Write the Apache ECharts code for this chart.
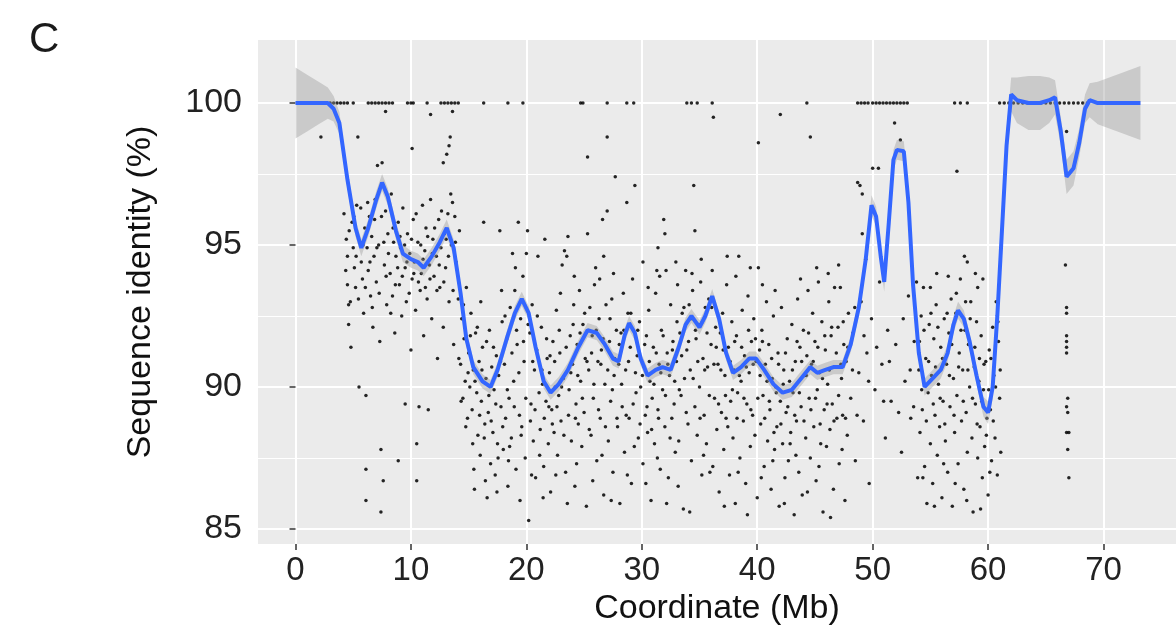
<!DOCTYPE html>
<html>
<head>
<meta charset="utf-8">
<style>
  html, body { margin: 0; padding: 0; background: #fff; }
  #chart { width: 1176px; height: 636px; }
</style>
<script src="https://cdn.jsdelivr.net/npm/echarts@6/dist/echarts.min.js"></script>
</head>
<body>
<div id="chart"></div>
<script>
  // tick labels
  var xTicks = [0, 10, 20, 30, 40, 50, 60, 70];
  var yTicks = [85, 90, 95, 100];
  var yMinorTicks = [87.5, 92.5, 97.5];

  // loess fit: [coordinate, identity, half band width]
  var smoothCurve = [
    [0,100,1.25],[1,100,1.0],[2,100,0.75],[2.8,100,0.55],[3.3,99.8,0.45],[3.8,99.3,0.38],
    [4.5,97.3,0.32],[5.2,95.6,0.3],[5.7,94.9,0.3],[6.3,95.6,0.3],[7.0,96.6,0.3],[7.5,97.2,0.3],
    [8.0,96.7,0.3],[8.7,95.5,0.3],[9.3,94.7,0.3],[10.0,94.5,0.3],[10.6,94.4,0.3],[11.1,94.2,0.3],
    [11.8,94.6,0.3],[12.5,95.1,0.3],[13.1,95.6,0.3],[13.7,94.9,0.3],[14.3,93.3,0.3],[14.8,91.7,0.28],
    [15.4,90.7,0.25],[16.2,90.2,0.25],[16.9,90.0,0.25],[17.5,90.6,0.25],[18.3,91.7,0.25],[19.0,92.6,0.25],
    [19.6,93.1,0.25],[20.2,92.6,0.25],[20.8,91.4,0.25],[21.5,90.2,0.25],[22.1,89.8,0.25],[22.8,90.1,0.25],
    [23.6,90.6,0.25],[24.5,91.4,0.25],[25.3,92.0,0.25],[26.1,91.9,0.25],[26.8,91.5,0.25],[27.5,91.0,0.25],
    [28.0,90.9,0.25],[28.5,91.8,0.25],[28.9,92.25,0.25],[29.4,91.9,0.25],[29.9,91.0,0.25],[30.5,90.4,0.25],
    [31.2,90.6,0.25],[31.8,90.7,0.25],[32.5,90.6,0.25],[33.2,91.4,0.25],[33.8,92.2,0.25],[34.3,92.5,0.25],
    [35.0,92.1,0.25],[35.5,92.5,0.25],[36.1,93.2,0.25],[36.7,92.4,0.25],[37.3,91.2,0.25],[37.9,90.5,0.25],
    [38.6,90.7,0.25],[39.3,91.0,0.25],[39.9,91.0,0.25],[40.6,90.6,0.25],[41.4,90.1,0.25],[42.2,89.8,0.25],
    [43.0,89.9,0.25],[43.8,90.3,0.25],[44.6,90.7,0.25],[45.2,90.5,0.25],[45.9,90.6,0.25],[46.6,90.7,0.25],
    [47.4,90.7,0.25],[48.1,91.5,0.28],[48.8,92.8,0.3],[49.4,94.5,0.32],[49.9,96.4,0.35],[50.3,96.0,0.35],
    [50.7,94.6,0.35],[51.0,93.7,0.35],[51.4,95.8,0.35],[51.8,98.0,0.35],[52.1,98.35,0.35],[52.7,98.3,0.35],
    [53.1,96.5,0.35],[53.5,93.6,0.32],[54.0,91.2,0.3],[54.5,90.0,0.3],[55.2,90.3,0.3],[55.9,90.6,0.3],
    [56.5,91.2,0.3],[57.0,92.2,0.3],[57.4,92.7,0.3],[57.9,92.4,0.3],[58.4,91.6,0.3],[59.0,90.4,0.3],
    [59.6,89.3,0.35],[60.0,89.1,0.4],[60.4,90.0,0.4],[60.8,92.5,0.45],[61.2,95.5,0.5],[61.6,98.5,0.55],
    [62.0,100.3,0.6],[62.5,100.1,0.8],[63.5,100.0,0.95],[64.5,100.0,0.95],[65.3,100.1,0.8],[65.8,100.2,0.6],
    [66.3,99.0,0.5],[66.8,97.4,0.6],[67.4,97.7,0.6],[67.9,98.6,0.5],[68.4,99.8,0.5],[68.8,100.1,0.6],
    [69.5,100.0,0.75],[70.5,100.0,0.9],[71.5,100.0,1.05],[73.2,100.0,1.3]
  ];

  // alignments at exactly 100 % identity
  var fullIdentityX = [3.0,3.3,3.6,3.9,4.2,4.5,5.0,6.3,6.6,6.9,7.2,7.5,7.8,8.1,8.4,9.7,10.0,10.2,11.4,
    12.6,12.9,13.2,13.5,13.8,14.1,16.3,18.4,19.7,24.7,24.9,27.0,28.7,29.3,33.9,34.3,34.8,36.1,44.3,
    48.7,49.0,49.3,49.6,50.0,50.3,50.6,50.9,51.2,51.5,51.8,52.1,52.4,52.7,53.0,57.1,57.6,58.2,
    61.0,61.4,61.8,62.2,62.6,63.0,63.4,63.8,64.2,64.6,65.0,65.4,65.8,66.2,66.6,67.0,67.4,67.8,68.2,68.6];

  // remaining alignments, [coordinate, identity]
  var pts0to8 = [[4.2,96.1],[4.4,95.2],[4.5,94.6],[4.5,93.6],[4.6,92.9],[4.6,92.2],[4.8,91.4],[4.9,95.8],
    [5.0,94.9],[5.1,94.2],[5.2,93.5],[5.3,96.4],[5.4,98.8],[5.5,90.0],[5.6,95.1],[5.7,94.4],[5.8,93.8],
    [5.9,92.6],[6.0,95.6],[6.1,89.7],[6.1,87.1],[6.1,86.0],[6.2,94.9],[6.3,94.1],[6.4,96.0],[6.5,93.2],
    [6.6,95.3],[6.7,92.1],[6.8,94.6],[6.9,96.6],[7.0,93.7],[7.1,97.8],[7.2,95.0],[7.3,91.6],[7.4,87.8],
    [7.4,85.6],[7.5,97.9],[7.6,86.7],[7.7,94.3],[7.8,99.7],[7.8,96.2],[7.9,92.9],[8.0,95.4],[2.2,98.8],
    [4.35,94.1],[4.65,95.5],[4.75,93.0],[5.05,96.0],[5.25,94.6],[5.45,93.1],[5.65,96.3],[5.85,95.0],
    [6.05,93.5],[6.25,96.5],[6.45,94.4],[6.65,92.8],[6.85,95.9],[7.05,94.9],[7.25,93.3],[7.45,96.0],
    [7.65,95.1],[7.85,93.9]];
  var pts8to14 = [[8.2,94.0],[8.3,96.8],[8.4,93.2],[8.5,95.1],[8.6,91.9],[8.7,94.6],[8.9,87.4],[8.9,95.8],
    [9.0,93.6],[9.1,94.9],[9.2,92.5],[9.3,96.3],[9.5,89.4],[9.5,94.2],[9.6,93.0],[9.7,95.4],[9.9,94.7],
    [10.0,91.3],[10.1,98.4],[10.1,93.8],[10.2,95.9],[10.3,94.4],[10.4,92.7],[10.5,88.0],[10.5,86.7],
    [10.6,95.1],[10.7,89.3],[10.8,93.4],[10.9,94.0],[11.0,96.4],[11.1,91.8],[11.2,94.8],[11.3,95.6],
    [11.4,93.1],[11.5,89.2],[11.6,94.3],[11.7,96.6],[11.7,99.6],[11.8,92.4],[11.9,95.2],[12.0,93.9],
    [12.2,94.6],[12.3,91.0],[12.4,95.9],[12.5,93.5],[12.6,94.9],[12.8,97.9],[12.8,92.1],[12.9,95.4],
    [13.0,94.2],[13.1,98.2],[13.2,96.1],[13.3,98.5],[13.3,93.0],[13.4,98.8],[13.5,95.0],[13.6,99.7],
    [13.6,96.5],[13.7,91.5],[13.8,96.0],[13.9,94.4],
    [8.05,94.7],[8.25,92.6],[8.45,95.6],[8.65,93.6],[8.85,94.2],[9.05,95.3],[9.25,93.9],[9.45,95.0],
    [9.65,94.4],[9.85,93.3],[10.05,95.2],[10.25,94.0],[10.45,96.1],[10.65,93.7],[10.85,95.0],[11.05,94.5],
    [11.25,93.5],[11.45,95.3],[11.65,93.8],[11.85,94.7],[12.05,95.6],[12.25,93.4],[12.45,94.3],[12.65,96.2],
    [12.85,93.7],[13.05,95.2],[13.25,94.6],[13.45,96.8],[13.65,93.4],[13.85,95.1]];
  var pts14to22 = [[14.1,93.1],[14.2,95.5],[14.3,90.8],[14.4,92.4],[14.5,89.6],[14.6,91.7],[14.7,90.2],
    [14.8,93.5],[14.9,88.9],[15.0,91.2],[15.1,90.0],[15.2,92.6],[15.3,89.2],[15.4,90.6],[15.5,86.4],
    [15.6,91.9],[15.7,89.8],[15.8,88.3],[15.9,90.9],[16.0,87.6],[16.1,89.5],[16.2,91.4],[16.3,95.8],
    [16.4,88.7],[16.5,90.3],[16.6,86.1],[16.7,89.1],[16.8,92.0],[16.9,87.3],[17.0,90.7],[17.1,88.4],
    [17.2,89.9],[17.3,86.9],[17.4,91.1],[17.5,88.0],[17.6,90.4],[17.7,95.5],[17.8,89.3],[17.9,92.3],
    [18.0,87.8],[18.1,90.8],[18.2,88.9],[18.3,91.7],[18.4,86.5],[18.5,89.6],[18.6,92.8],[18.7,88.2],
    [18.8,94.7],[18.9,90.2],[19.0,93.4],[19.1,87.1],[19.2,91.5],[19.3,95.8],[19.4,89.0],[19.5,92.4],
    [19.6,88.6],[19.7,93.9],[19.8,90.9],[19.9,87.5],[20.0,94.7],[20.1,95.5],[20.2,85.3],[20.3,91.9],
    [20.4,89.4],[20.5,92.9],[20.6,88.1],[20.7,90.6],[20.8,86.8],[20.9,91.3],[21.0,94.6],[21.1,89.8],
    [21.2,88.5],[21.3,92.1],[21.4,90.1],[21.5,87.2],[21.6,95.2],[21.7,89.5],[21.8,91.0],[21.9,88.0],
    [14.15,91.0],[14.35,89.5],[14.55,92.9],[14.75,88.6],[14.95,90.5],[15.15,91.8],[15.35,88.0],[15.55,90.2],
    [15.75,92.1],[15.95,89.0],[16.15,90.6],[16.35,88.2],[16.55,91.6],[16.75,89.7],[16.95,88.8],[17.15,91.4],
    [17.35,89.4],[17.55,87.5],[17.75,90.9],[17.95,88.6],[18.15,92.5],[18.35,89.9],[18.55,87.9],[18.75,91.2],
    [18.95,89.3],[19.15,92.0],[19.35,90.5],[19.55,88.3],[19.75,91.6],[19.95,89.6],[20.15,92.2],[20.35,88.8],
    [20.55,90.9],[20.75,89.2],[20.95,92.5],[21.15,87.6],[21.35,90.6],[21.55,88.9],[21.75,91.7],[21.95,89.3],
    [15.45,87.1],[16.45,86.7],[17.45,86.3],[18.45,87.4],[19.45,86.0],[20.45,86.9],[21.45,86.1],[19.05,94.2],
    [17.85,93.4],[16.05,93.0]];
  var pts22to30 = [[22.0,90.5],[22.1,86.3],[22.2,89.2],[22.3,91.6],[22.4,88.4],[22.5,90.0],[22.6,92.7],
    [22.7,87.6],[22.8,89.7],[22.9,91.2],[23.0,88.8],[23.1,94.3],[23.2,90.3],[23.3,94.8],[23.4,87.0],
    [23.5,94.6],[23.6,95.3],[23.7,89.9],[23.8,91.8],[23.9,88.1],[24.0,90.8],[24.1,92.9],[24.2,86.5],
    [24.3,89.4],[24.4,91.5],[24.5,88.7],[24.6,93.4],[24.7,90.2],[24.8,87.9],[24.9,92.2],[25.0,89.1],
    [25.1,91.0],[25.2,85.8],[25.3,95.4],[25.3,98.1],[25.4,90.6],[25.5,92.8],[25.6,88.3],[25.7,91.8],
    [25.8,89.6],[25.9,93.6],[26.0,94.2],[26.1,87.4],[26.2,90.9],[26.3,92.4],[26.4,88.9],[26.5,91.3],
    [26.6,95.9],[26.7,94.6],[26.7,86.2],[26.8,90.1],[26.9,92.9],[27.0,96.2],[27.0,98.8],[27.1,88.1],
    [27.2,91.6],[27.3,89.5],[27.4,93.1],[27.5,87.0],[27.6,90.4],[27.7,97.4],[27.8,92.0],[27.9,88.6],
    [28.0,90.8],[28.1,85.9],[28.2,91.9],[28.3,89.3],[28.4,93.3],[28.5,87.7],[28.6,90.6],[28.7,96.5],
    [28.8,92.6],[28.9,88.9],[29.0,91.4],[29.1,86.6],[29.2,93.8],[29.4,97.1],[29.5,89.8],[29.6,91.1],
    [29.7,88.2],[29.8,92.3],[29.9,90.0],
    [22.05,91.1],[22.25,88.7],[22.45,90.9],[22.65,89.3],[22.85,92.0],[23.05,90.0],[23.25,88.3],[23.45,91.4],
    [23.65,89.0],[23.85,90.5],[24.05,92.2],[24.25,88.9],[24.45,90.4],[24.65,91.9],[24.85,89.6],[25.05,92.6],
    [25.25,90.9],[25.45,88.5],[25.65,91.2],[25.85,90.1],[26.05,92.0],[26.25,89.2],[26.45,90.8],[26.65,91.7],
    [26.85,88.6],[27.05,90.6],[27.25,92.4],[27.45,89.9],[27.65,91.0],[27.85,88.9],[28.05,91.5],[28.25,90.1],
    [28.45,92.0],[28.65,89.0],[28.85,90.9],[29.05,92.6],[29.25,89.4],[29.45,90.5],[29.65,92.0],[29.85,88.7],
    [22.55,86.9],[23.55,85.9],[24.35,87.3],[25.75,86.7],[26.55,87.6],[27.35,86.0],[28.75,86.9],[29.35,87.9],
    [22.95,93.3],[24.15,93.9],[26.35,93.8],[27.55,94.0]];
  var pts30to40 = [[30.1,94.4],[30.1,87.3],[30.2,90.7],[30.3,89.0],[30.4,91.8],[30.5,88.4],[30.6,92.7],
    [30.7,90.2],[30.8,86.0],[30.9,89.6],[31.0,91.4],[31.1,88.0],[31.2,93.3],[31.3,94.1],[31.4,94.9],
    [31.4,89.2],[31.5,90.8],[31.6,87.1],[31.7,92.0],[31.8,89.9],[31.9,95.9],[32.0,95.4],[32.0,88.6],
    [32.1,94.1],[32.2,91.2],[32.3,86.8],[32.4,90.4],[32.5,92.9],[32.6,88.9],[32.7,91.6],[32.8,89.4],
    [32.9,87.7],[33.0,90.9],[33.1,93.6],[33.2,88.1],[33.3,91.9],[33.4,89.7],[33.5,92.6],[33.6,85.7],
    [33.7,90.3],[33.8,94.1],[33.9,91.3],[34.0,88.7],[34.1,92.9],[34.2,90.6],[34.3,87.4],[34.4,93.4],
    [34.5,97.1],[34.6,95.5],[34.6,89.3],[34.7,91.7],[34.8,88.3],[34.9,92.2],[35.0,90.0],[35.1,93.7],
    [35.2,86.9],[35.3,91.0],[35.4,89.0],[35.5,92.8],[35.6,88.0],[35.7,90.7],[35.8,93.1],[35.9,87.0],
    [36.0,91.5],[36.1,94.1],[36.2,99.5],[36.3,89.6],[36.4,92.1],[36.5,88.5],[36.6,90.8],[36.7,86.3],
    [36.8,91.9],[36.9,89.1],[37.0,92.6],[37.1,87.8],[37.2,90.4],[37.3,88.9],[37.4,94.6],[37.5,91.4],
    [37.6,86.9],[37.7,89.5],[37.8,92.3],[37.9,88.2],[38.0,90.6],[38.1,85.9],[38.2,91.8],[38.3,89.8],
    [38.4,94.6],[38.5,87.5],[38.6,90.2],[38.7,92.7],[38.8,88.8],[38.9,91.1],[39.0,86.6],[39.1,89.4],
    [39.2,93.2],[39.3,90.5],[39.4,94.2],[39.4,87.9],[39.5,91.6],[39.6,89.0],[39.7,92.4],[39.8,88.3],
    [39.9,90.9],[40.0,86.1],[40.1,94.2],[40.1,98.6],
    [30.05,90.4],[30.25,91.5],[30.45,89.3],[30.65,90.9],[30.85,88.5],[31.05,90.1],[31.25,91.2],[31.45,88.9],
    [31.65,90.5],[31.85,91.8],[32.05,89.7],[32.25,90.8],[32.45,88.2],[32.65,91.3],[32.85,90.2],[33.05,92.3],
    [33.25,89.9],[33.45,91.1],[33.65,92.8],[33.85,89.1],[34.05,91.6],[34.25,92.4],[34.45,90.3],[34.65,92.0],
    [34.85,90.9],[35.05,88.9],[35.25,92.3],[35.45,90.6],[35.65,91.9],[35.85,89.7],[36.05,92.8],[36.25,90.8],
    [36.45,91.4],[36.65,89.4],[36.85,90.6],[37.05,91.3],[37.25,89.7],[37.45,88.6],[37.65,90.9],[37.85,89.9],
    [38.05,91.6],[38.25,88.9],[38.45,90.4],[38.65,91.4],[38.85,89.6],[39.05,90.7],[39.25,92.0],[39.45,89.2],
    [39.65,90.8],[39.85,91.7],
    [30.35,86.6],[31.35,87.5],[32.15,85.9],[33.15,86.5],[34.15,85.6],[35.35,87.6],[36.15,87.2],[37.15,85.8],
    [38.35,87.0],[39.15,85.5],[30.55,93.5],[31.55,93.9],[32.95,94.4],[34.35,94.0],[35.15,94.5],[37.35,93.6],
    [38.15,93.9]];
  var pts40to48 = [[40.2,91.3],[40.3,88.7],[40.4,92.0],[40.5,89.7],[40.6,87.2],[40.7,90.8],[40.8,93.0],
    [40.9,88.1],[41.0,91.5],[41.1,89.2],[41.2,86.4],[41.3,90.3],[41.4,92.5],[41.5,87.8],[41.6,90.0],
    [41.7,88.6],[41.8,91.2],[41.9,85.8],[42.0,99.6],[42.0,89.5],[42.1,92.8],[42.2,88.0],[42.3,90.6],
    [42.4,86.8],[42.5,89.1],[42.6,91.7],[42.7,87.4],[42.8,90.2],[42.9,88.4],[43.0,92.2],[43.1,89.8],
    [43.2,85.5],[43.3,90.9],[43.4,88.8],[43.5,93.1],[43.6,87.0],[43.7,91.4],[43.8,89.3],[43.9,86.2],
    [44.0,92.0],[44.1,90.4],[44.2,88.2],[44.3,91.1],[44.4,93.4],[44.5,89.6],[44.6,98.8],[44.6,87.5],
    [44.7,90.8],[44.8,92.6],[44.9,88.6],[45.0,91.6],[45.1,86.7],[45.2,89.9],[45.3,93.7],[45.4,90.5],
    [45.5,88.0],[45.6,92.3],[45.7,85.6],[45.8,89.2],[45.9,91.3],[46.0,87.9],[46.1,90.1],[46.2,93.0],
    [46.3,88.5],[46.4,91.8],[46.5,89.4],[46.6,86.4],[46.7,93.5],[46.8,90.7],[46.9,88.9],[47.0,92.1],
    [47.1,87.3],[47.2,93.5],[47.3,90.3],[47.4,89.0],[47.5,91.5],[47.6,86.0],[47.7,90.9],[47.8,88.3],
    [47.9,92.6],
    [40.05,89.6],[40.25,90.4],[40.45,91.6],[40.65,88.9],[40.85,90.2],[41.05,89.5],[41.25,91.0],[41.45,88.4],
    [41.65,89.8],[41.85,90.8],[42.05,88.7],[42.25,90.1],[42.45,91.2],[42.65,89.3],[42.85,88.0],[43.05,90.6],
    [43.25,89.0],[43.45,91.6],[43.65,89.8],[43.85,90.9],[44.05,88.8],[44.25,90.4],[44.45,91.9],[44.65,89.2],
    [44.85,90.9],[45.05,89.6],[45.25,91.4],[45.45,88.7],[45.65,90.3],[45.85,91.8],[46.05,89.4],[46.25,90.6],
    [46.45,92.1],[46.65,88.8],[46.85,91.2],[47.05,89.7],[47.25,90.8],[47.45,92.3],[47.65,88.9],[47.85,91.4],
    [40.35,86.8],[41.35,87.4],[42.35,85.9],[43.35,87.6],[44.35,86.3],[45.35,87.2],[46.35,85.4],[47.35,87.8],
    [40.45,93.6],[41.55,93.4],[43.75,93.8],[45.15,94.2],[46.15,94.0],[47.05,94.3]];
  var pts48to54 = [[48.1,89.6],[48.3,91.9],[48.5,87.4],[48.7,97.2],[48.8,90.5],[48.9,97.1],[49.0,93.0],
    [49.1,96.8],[49.1,95.4],[49.2,88.8],[49.4,94.5],[49.5,91.2],[49.7,86.6],[49.9,92.4],[50.0,97.7],
    [50.2,89.9],[50.5,97.7],[50.6,93.7],[50.8,90.8],[51.1,88.2],[51.3,92.0],[51.6,89.5],[51.9,99.3],
    [52.0,91.5],[52.4,98.7],[52.5,87.7],[52.8,90.2],[53.1,93.2],[53.3,88.9],[53.6,91.6],[53.8,93.7],
    [53.9,86.8],[48.25,90.6],[48.45,92.8],[48.65,89.0],[49.25,91.8],[49.65,90.2],[50.35,91.4],[50.95,89.5],
    [51.45,90.9],[52.25,89.1],[52.65,92.4],[53.25,90.6],[53.55,89.3]];
  var pts54to62 = [[54.0,90.6],[54.1,88.4],[54.2,92.5],[54.3,89.2],[54.4,93.5],[54.5,87.2],[54.6,91.0],
    [54.7,85.9],[54.8,89.8],[54.9,92.2],[55.0,93.5],[55.0,88.0],[55.1,90.4],[55.2,86.6],[55.3,91.7],
    [55.4,89.0],[55.5,92.9],[55.6,87.6],[55.7,90.1],[55.8,88.6],[55.9,91.4],[56.0,86.1],[56.1,89.5],
    [56.2,92.4],[56.3,88.1],[56.4,90.8],[56.5,87.0],[56.6,91.9],[56.7,89.3],[56.8,93.1],[56.9,85.8],
    [57.0,90.3],[57.1,88.4],[57.2,92.6],[57.3,97.6],[57.3,89.7],[57.4,87.3],[57.5,91.2],[57.6,93.8],
    [57.7,88.8],[57.8,90.6],[57.9,86.4],[58.0,92.0],[58.1,89.1],[58.2,94.4],[58.2,87.7],[58.3,91.5],
    [58.4,90.0],[58.5,93.0],[58.6,88.2],[58.7,85.6],[58.8,90.7],[58.9,94.0],[58.9,89.4],[59.0,92.3],
    [59.1,93.5],[59.1,87.5],[59.2,90.2],[59.3,88.6],[59.4,91.8],[59.5,86.8],[59.6,89.9],[59.7,87.9],
    [59.8,90.9],[59.9,88.9],[60.0,86.2],[60.1,91.3],[60.2,89.2],[60.3,87.4],[60.4,92.1],[60.5,90.4],
    [60.6,88.2],[60.7,93.0],[60.8,86.9],[60.9,91.6],[61.0,89.6],[61.1,87.7],
    [54.05,91.6],[54.25,89.9],[54.45,92.0],[54.65,88.8],[54.85,90.9],[55.05,92.6],[55.25,89.4],[55.45,90.7],
    [55.65,92.1],[55.85,89.6],[56.05,91.0],[56.25,88.7],[56.45,92.6],[56.65,90.4],[56.85,91.5],[57.05,89.0],
    [57.25,93.3],[57.45,90.7],[57.65,92.0],[57.85,89.5],[58.05,93.0],[58.25,90.6],[58.45,92.4],[58.65,89.6],
    [58.85,91.4],[59.05,88.7],[59.25,91.0],[59.45,89.5],[59.65,90.8],[59.85,88.3],[60.05,89.9],[60.25,91.0],
    [60.45,88.8],[60.65,90.0],[60.85,92.3],[61.05,90.6],[54.35,86.8],[55.35,85.8],[56.15,87.3],[57.15,86.6],
    [58.15,86.0],[59.35,85.7],[60.15,87.0],[55.55,94.0],[56.55,93.9],[57.95,94.6],[59.55,93.8]];
  var pts62to74 = [[66.7,94.3],[66.8,99.0],[66.8,92.8],[66.8,92.6],[66.8,91.8],[66.8,91.6],[66.8,91.4],
    [66.8,91.2],[66.9,89.6],[66.8,89.3],[66.9,89.1],[66.8,88.4],[67.0,88.4],[66.9,87.8],[67.0,86.8]];

  var points = fullIdentityX.map(function (x) { return [x, 100]; })
    .concat(pts0to8, pts8to14, pts14to22, pts22to30, pts30to40, pts40to48, pts48to54, pts54to62, pts62to74);

  var fitLine = smoothCurve.map(function (d) { return [d[0], d[1]]; });

  // confidence band as one polygon, upper edge then lower edge back
  function renderBand(params, api) {
    if (params.dataIndex !== 0) return null;
    var upper = smoothCurve.map(function (d) { return api.coord([d[0], d[1] + d[2]]); });
    var lower = smoothCurve.map(function (d) { return api.coord([d[0], d[1] - d[2]]); }).reverse();
    return {
      type: 'polygon',
      shape: { points: upper.concat(lower) },
      style: { fill: 'rgba(153,153,153,0.4)' }
    };
  }

  var myChart = echarts.init(document.getElementById('chart'));
  myChart.setOption({
    animation: false,
    backgroundColor: '#ffffff',
    textStyle: { fontFamily: 'Liberation Sans, Arial, sans-serif' },
    title: {
      text: 'C', left: 24, top: 14,
      textStyle: { fontSize: 42, fontWeight: 'normal', color: '#1a1a1a', fontFamily: 'Liberation Sans, Arial, sans-serif' }
    },
    grid: { left: 258, right: 0, top: 40, bottom: 92, show: true, backgroundColor: '#ebebeb', borderWidth: 0 },
    xAxis: {
      type: 'value', min: -3.25, max: 76.28,
      name: 'Coordinate (Mb)', nameLocation: 'middle', nameGap: 46,
      nameTextStyle: { fontSize: 34, color: '#111' },
      axisLine: { show: false },
      axisTick: { show: true, customValues: xTicks, length: 6, lineStyle: { color: '#333', width: 1.5 } },
      axisLabel: { customValues: xTicks, fontSize: 33, color: '#222', margin: 10 },
      splitLine: { show: true, lineStyle: { color: '#ffffff', width: 2 } }
    },
    yAxis: [{
      type: 'value', min: 84.47, max: 102.22,
      name: 'Sequence identity (%)', nameLocation: 'middle', nameGap: 100,
      nameTextStyle: { fontSize: 34, color: '#111' },
      axisLine: { show: false },
      axisTick: { show: true, customValues: yTicks, length: 6, lineStyle: { color: '#333', width: 1.5 } },
      axisLabel: { customValues: yTicks, fontSize: 34, color: '#222', margin: 16 },
      splitLine: { show: true, lineStyle: { color: '#ffffff', width: 2 } }
    }, {
      type: 'value', min: 84.47, max: 102.22, position: 'left',
      axisLine: { show: false },
      axisTick: { show: false, customValues: yMinorTicks },
      axisLabel: { show: false, customValues: yMinorTicks },
      splitLine: { show: true, lineStyle: { color: '#ffffff', width: 1 } }
    }],
    series: [
      {
        type: 'scatter', data: points, symbolSize: 3.5, z: 2,
        itemStyle: { color: '#000000', opacity: 0.85 }, silent: true
      },
      {
        type: 'custom', data: smoothCurve, renderItem: renderBand, z: 3, clip: true,
        encode: { x: 0, y: 1 }, silent: true
      },
      {
        type: 'line', data: fitLine, symbol: 'none', z: 4,
        lineStyle: { color: '#3366ff', width: 4 }, silent: true
      }
    ]
  });
</script>
</body>
</html>
